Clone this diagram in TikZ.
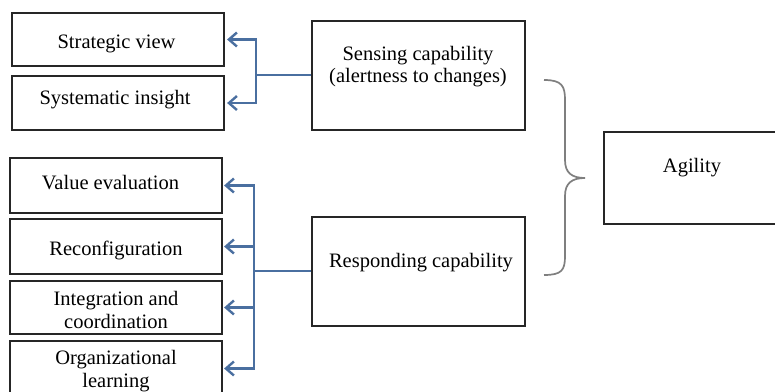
\documentclass[tikz,border=0pt]{standalone}
\usepackage{fontspec}
\setmainfont{Liberation Serif}
\usetikzlibrary{arrows.meta}
\definecolor{linkblue}{HTML}{4A6FA0}
\definecolor{bracegray}{HTML}{7F7F7F}
\begin{document}
\begin{tikzpicture}[x=1pt,y=-1pt,
  box/.style={draw=black!85,line width=2.2pt,rectangle,inner sep=0pt},
  lbl/.style={font=\fontsize{20.5}{22.5}\selectfont,align=center,inner sep=0pt,anchor=center},
  link/.style={draw=linkblue,line width=2.1pt},
  arr/.style={link,-{Straight Barb[length=8pt,width=14pt,line width=2.4pt]}}
]
\clip (0,0) rectangle (775,391);
\fill[white] (0,0) rectangle (775,391);

% sensing branch boxes
\node[box,minimum width=212,minimum height=53] (sv) at (118,39.5) {};
\node[lbl] (svt) at (116.5,44) {Strategic view};
\node[box,minimum width=212,minimum height=54] (si) at (118,103) {};
\node[lbl] (sit) at (115,100) {Systematic insight};

% responding branch boxes
\node[box,minimum width=212,minimum height=55] (ve) at (116,185.5) {};
\node[lbl] (vet) at (110.5,183) {Value evaluation};
\node[box,minimum width=212,minimum height=55] (rc) at (116,246.5) {};
\node[lbl] (rct) at (116,250) {Reconfiguration};
\node[box,minimum width=212,minimum height=53] (ic) at (116,307.5) {};
\node[lbl] (ict) at (116,310) {Integration and\\coordination};
\node[box,minimum width=212,minimum height=55] (ol) at (116,368.5) {};
\node[lbl] (olt) at (116,371) {Organizational\\learning};

% capabilities
\node[box,minimum width=213,minimum height=109] (sens) at (418.5,75.5) {};
\node[lbl] (senst) at (418,66.5) {Sensing capability\\(alertness to changes)};
\node[box,minimum width=213,minimum height=109] (resp) at (418.5,271.5) {};
\node[lbl] (respt) at (421,263) {Responding capability};

% agility
\node[box,minimum width=200,minimum height=92] (agil) at (704,178) {};
\node[lbl] (agilt) at (692,168) {Agility};

% connectors from the sensing capability
\coordinate (sbus) at (256,75);
\draw[link] (sens.west |- sbus) -- (sbus);
\draw[arr] (sbus) |- ([xshift=2pt]sv.east);
\draw[arr] (sbus) |- ([xshift=2pt]si.east);

% connectors from the responding capability
\coordinate (rbus) at (254,271);
\draw[link] (resp.west |- rbus) -- (rbus);
\draw[arr] (rbus) |- ([xshift=1pt]ve.east);
\draw[arr] (rbus) |- ([xshift=1pt]rc.east);
\draw[arr] (rbus) |- ([xshift=1pt]ic.east);
\draw[arr] (rbus) |- ([xshift=1pt]ol.east);

% brace joining both capabilities
\coordinate (btop) at (544,80);
\coordinate (btip) at (585,178);
\coordinate (bbot) at (544,275);
\draw[bracegray,line width=1.7pt]
  (btop) .. controls (562,80) and (565,86) .. (565,100)
  -- (565,160) .. controls (565,173) and (572,178) .. (btip)
  .. controls (572,178) and (565,183) .. (565,196)
  -- (565,256) .. controls (565,270) and (562,275) .. (bbot);
\end{tikzpicture}
\end{document}
